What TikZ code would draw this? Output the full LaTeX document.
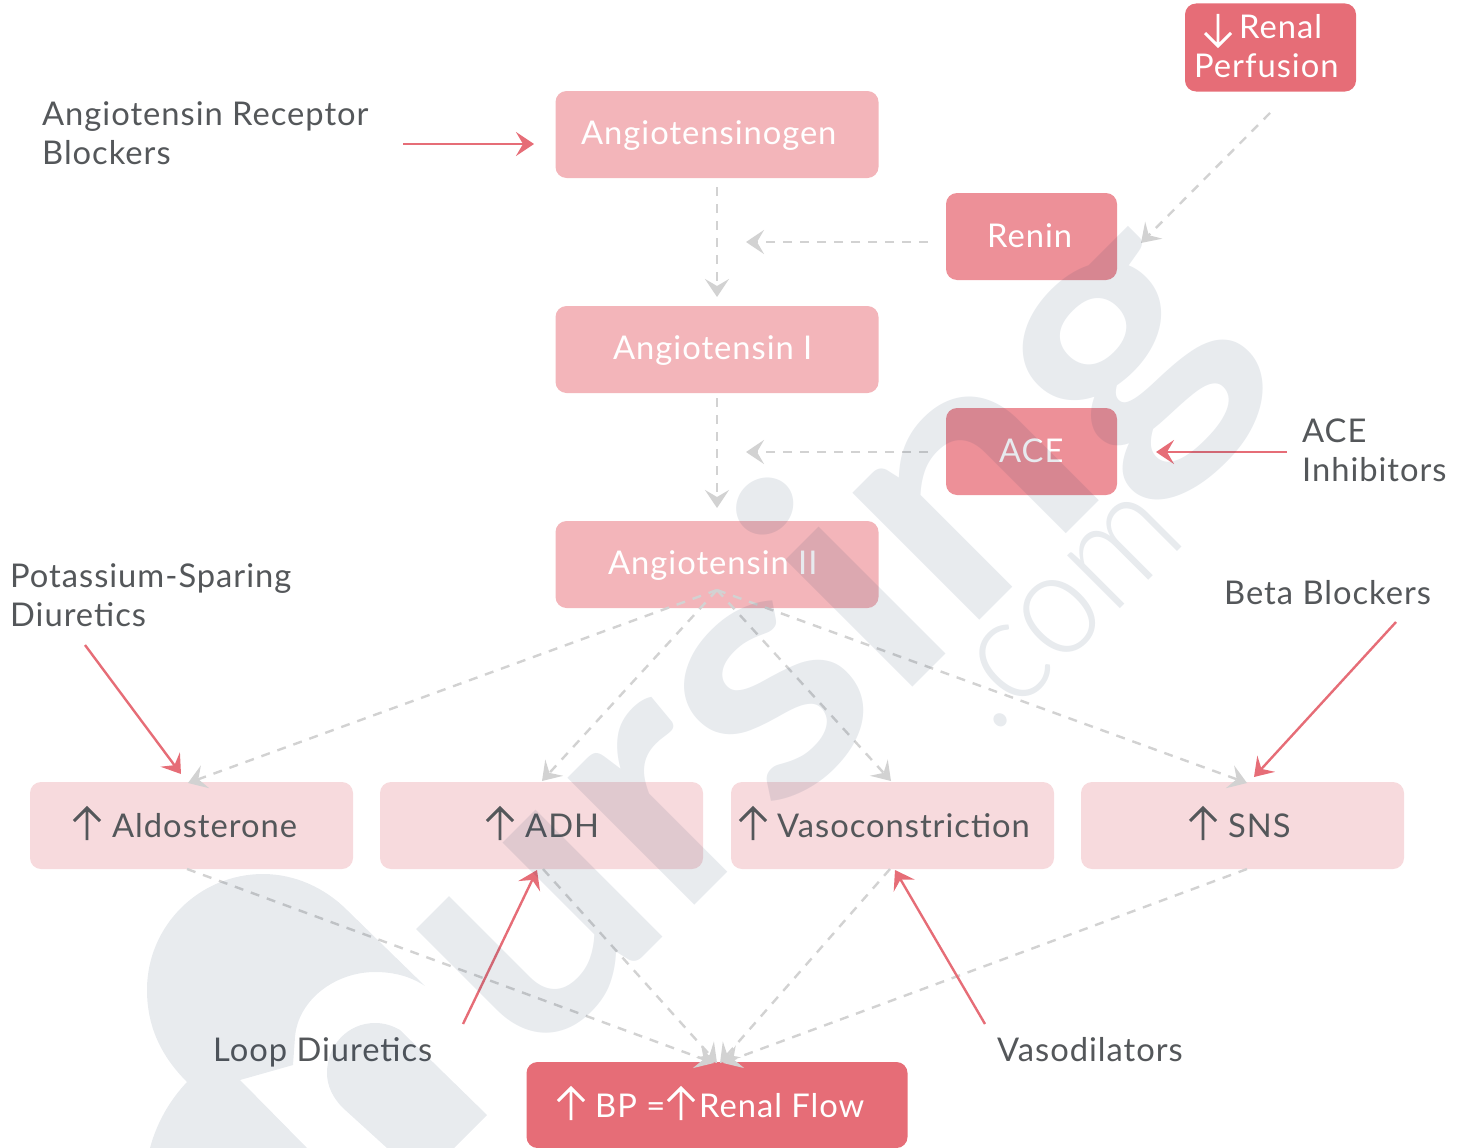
\documentclass[tikz,border=0pt]{standalone}
\usepackage{fontspec}
\usetikzlibrary{arrows.meta}
\setmainfont{Lato}[LetterSpace=3]
\newfontfamily\wmfont{Lato}[BoldFont=* Bold]
\newfontfamily\wmlight{Lato}[UprightFont=* Light]
\definecolor{txtgrey}{HTML}{54575A}
\definecolor{redmain}{HTML}{E66D77}
\definecolor{redmid}{HTML}{ED9098}
\definecolor{redlight}{HTML}{F3B5BA}
\definecolor{redpale}{HTML}{F7DADD}
\definecolor{dashgrey}{HTML}{D2D2D2}
\definecolor{wmcol}{HTML}{19375A}
\tikzset{
  box/.style={rounded corners=11pt,inner sep=0pt},
  boxmain/.style={box,fill=redmain},
  boxmid/.style={box,fill=redmid},
  boxlight/.style={box,fill=redlight},
  boxpale/.style={box,fill=redpale},
  wtxt/.style={font=\fontsize{32.7}{38.5}\selectfont,text=white,inner sep=0pt,anchor=base west},
  gtxt/.style={font=\fontsize{32.7}{38.5}\selectfont,text=txtgrey,inner sep=0pt,anchor=base west},
  lab/.style={font=\fontsize{32.7}{38.5}\selectfont,text=txtgrey,align=left,inner sep=0pt,anchor=north west},
  flow/.style={draw=dashgrey,line width=2.4pt,dash pattern=on 9pt off 8pt,-{Stealth[length=18pt,width=24pt,inset=7pt,color=dashgrey]}},
  act/.style={draw=redmain,line width=2.4pt,-{Stealth[length=18pt,width=24pt,inset=7pt,color=redmain]}},
  iconup/.style={line width=2.9pt,line cap=butt,line join=miter}
}
\newcommand{\arrowup}[3]{\draw[iconup,#1] (#2,#3+33) -- (#2,#3+1) (#2-13,#3+14) -- (#2,#3+1) -- (#2+13,#3+14);}
\newcommand{\arrowdown}[3]{\draw[iconup,#1] (#2,#3) -- (#2,#3+32) (#2-13,#3+19) -- (#2,#3+32) -- (#2+13,#3+19);}
\begin{document}
\begin{tikzpicture}[x=1pt,y=-1pt]
\useasboundingbox (0,0) rectangle (1464,1148);
% boxes
\node[boxlight,minimum width=323pt,minimum height=87pt] (ang0) at (717,134.5) {};
\node[boxlight,minimum width=323pt,minimum height=87pt] (ang1) at (717,349.5) {};
\node[boxlight,minimum width=323pt,minimum height=87pt] (ang2) at (717,564.5) {};
\node[boxmid,minimum width=171pt,minimum height=87pt] (renin) at (1031.5,236.5) {};
\node[boxmid,minimum width=171pt,minimum height=87pt] (ace) at (1031.5,451.5) {};
\node[boxmain,minimum width=171pt,minimum height=88pt] (renal) at (1270.5,47.5) {};
\node[boxpale,minimum width=323pt,minimum height=87pt] (ald) at (191.5,825.5) {};
\node[boxpale,minimum width=323pt,minimum height=87pt] (adh) at (541.5,825.5) {};
\node[boxpale,minimum width=323pt,minimum height=87pt] (vaso) at (892.5,825.5) {};
\node[boxpale,minimum width=323pt,minimum height=87pt] (sns) at (1242.5,825.5) {};
\node[boxmain,minimum width=381pt,minimum height=86pt] (bp) at (717,1105) {};
% box texts
\node[wtxt] (tang0) at (581,144) {Angiotensinogen};
\node[wtxt] (tang1) at (613,359.5) {Angiotensin I};
\node[wtxt] (tang2) at (608,574.5) {Angiotensin II};
\node[wtxt] (trenin) at (987,247.5) {Renin};
\node[wtxt] (tace) at (999,462.5) {ACE};
\node[wtxt] (trenal) at (1239,38.5) {Renal};
\node[wtxt] (tperf) at (1194,77.5) {Perfusion};
\node[gtxt] (tald) at (112,837) {Aldosterone};
\node[gtxt] (tadh) at (525,837) {ADH};
\node[gtxt] (tvaso) at (777,837) {Vasoconstriction};
\node[gtxt] (tsns) at (1228,837) {SNS};
\node[wtxt] (tbp) at (595,1117) {BP =};
\node[wtxt] (tflow) at (699,1117) {Renal Flow};
\arrowup{txtgrey}{87}{807}
\arrowup{txtgrey}{500}{807}
\arrowup{txtgrey}{753}{807}
\arrowup{txtgrey}{1203}{807}
\arrowup{white}{571}{1087}
\arrowup{white}{681}{1087}
\arrowdown{white}{1218}{14}
% labels
\node[lab] (larb) at (42,101.5) {Angiotensin Receptor\\Blockers};
\node[lab] (lacei) at (1302,419) {ACE\\Inhibitors};
\node[lab] (lpot) at (10,563.5) {Potassium-Sparing\\Diuretics};
\node[lab] (lbeta) at (1224,580) {Beta Blockers};
\node[lab] (lloop) at (213,1037.5) {Loop Diuretics};
\node[lab] (lvaso) at (997,1037.5) {Vasodilators};
% free ends
\coordinate (a1s) at (717,187); \coordinate (a1e) at (717,297);
\coordinate (a2s) at (717,398); \coordinate (a2e) at (717,508);
\coordinate (rs) at (1270,113); \coordinate (re) at (1141,243);
\coordinate (ns) at (928,242); \coordinate (ne) at (746,242);
\coordinate (cs) at (928,452); \coordinate (ce) at (746,452);
\coordinate (hub) at (717,590);
\coordinate (t1) at (188,783); \coordinate (t2) at (542,781);
\coordinate (t3) at (891,781); \coordinate (t4) at (1247,783);
\coordinate (s1) at (187,869); \coordinate (s2) at (543,869);
\coordinate (s3) at (890,869); \coordinate (s4) at (1247,869);
\coordinate (b1) at (714,1063); \coordinate (b2) at (717,1063);
\coordinate (b3) at (720,1063); \coordinate (b4) at (723,1063);
\coordinate (rarbs) at (403,144); \coordinate (rarbe) at (534,144);
\coordinate (racs) at (1287,452); \coordinate (race) at (1156,452);
\coordinate (rpos) at (85,645); \coordinate (rpoe) at (181,774);
\coordinate (rbes) at (1396,622); \coordinate (rbee) at (1254,777);
\coordinate (rlos) at (463,1024); \coordinate (rloe) at (537,870);
\coordinate (rvas) at (985,1024); \coordinate (rvae) at (895,870);
% connectors
\draw[flow] (a1s) -- (a1e);
\draw[flow] (a2s) -- (a2e);
\draw[flow] (rs) -- (re);
\draw[flow] (ns) -- (ne);
\draw[flow] (cs) -- (ce);
\draw[flow] (hub) -- (t1);
\draw[flow] (hub) -- (t2);
\draw[flow] (hub) -- (t3);
\draw[flow] (hub) -- (t4);
\draw[flow] (s1) -- (b1);
\draw[flow] (s2) -- (b2);
\draw[flow] (s3) -- (b3);
\draw[flow] (s4) -- (b4);
\draw[act] (rarbs) -- (rarbe);
\draw[act] (racs) -- (race);
\draw[act] (rpos) -- (rpoe);
\draw[act] (rbes) -- (rbee);
\draw[act] (rlos) -- (rloe);
\draw[act] (rvas) -- (rvae);
% watermark
\begin{scope}
\clip (0,0) rectangle (1464,1148);
\fill[wmcol,fill opacity=.1] (150,1148) .. controls (157,1122) and (170,1100) .. (187,1082)
  .. controls (160,1055) and (147,1025) .. (147,990)
  .. controls (147,925) and (200,874) .. (263,874)
  .. controls (295,874) and (325,888) .. (347,910)
  -- (425,986)
  .. controls (410,976) and (393,972) .. (375,972)
  .. controls (335,972) and (298,1000) .. (295,1037)
  -- (293,1065) -- (240,1080) -- (307,1148) -- cycle;
\fill[wmcol,fill opacity=.1] (327,1073) .. controls (327,1045) and (348,1023) .. (375,1023)
  .. controls (385,1023) and (393,1026) .. (400,1030)
  -- (487,1115) -- (454,1148) -- (387,1148) -- (343,1108)
  .. controls (333,1098) and (327,1086) .. (327,1073) -- cycle;
\node[rotate=45,xscale=1.08,transform shape,anchor=base west,inner sep=0pt,text=wmcol,text opacity=.1,font=\wmfont\bfseries\fontsize{350}{350}\selectfont] (wm) at (528,1072) {ursing};
\node[rotate=45,xscale=.9,transform shape,anchor=base west,inner sep=0pt,text=wmcol,text opacity=.1,font=\wmlight\fontsize{150}{150}\selectfont] (wmc) at (993,736) {.com};
\end{scope}
\end{tikzpicture}
\end{document}
